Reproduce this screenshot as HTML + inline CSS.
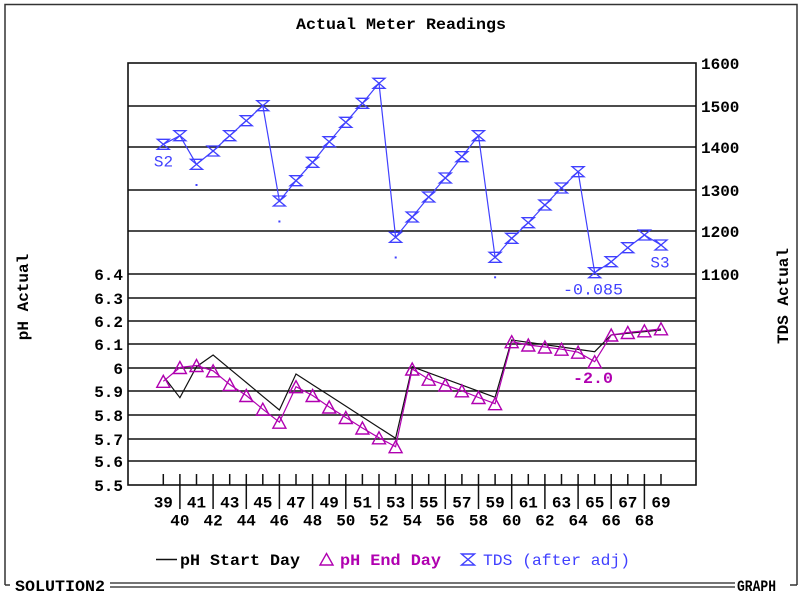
<!DOCTYPE html>
<html><head><meta charset="utf-8"><style>
html,body{margin:0;padding:0;background:#fff;}
svg{display:block;}
text{font-family:"Liberation Mono","DejaVu Sans Mono",monospace;}
.b{font-weight:bold;fill:#000;font-size:16px;}
</style></head><body>
<svg width="801" height="596" viewBox="0 0 801 596" xmlns="http://www.w3.org/2000/svg">
<rect x="0" y="0" width="801" height="596" fill="#fff"/>
<!-- outer frame -->
<path d="M5 585 V4.5 H797 V585" fill="none" stroke="#333" stroke-width="1.5"/>
<path d="M5 585 H10" stroke="#333" stroke-width="1.5"/>
<path d="M790 585 H797" stroke="#333" stroke-width="1.5"/>
<path d="M110 583 H735 M110 587 H735" stroke="#222" stroke-width="1.3"/>
<text class="b" x="15" y="591" textLength="90" lengthAdjust="spacingAndGlyphs">SOLUTION2</text>
<text class="b" x="737" y="591" textLength="39" lengthAdjust="spacingAndGlyphs">GRAPH</text>

<!-- title -->
<text class="b" x="296" y="29" textLength="210" lengthAdjust="spacingAndGlyphs">Actual Meter Readings</text>

<!-- grid -->
<g stroke="#111" stroke-width="1.6">
<line x1="128" y1="106" x2="696" y2="106"/>
<line x1="128" y1="147" x2="696" y2="147"/>
<line x1="128" y1="190" x2="696" y2="190"/>
<line x1="128" y1="231" x2="696" y2="231"/>
<line x1="128" y1="274" x2="696" y2="274"/>
<line x1="128" y1="298" x2="696" y2="298"/>
<line x1="128" y1="321" x2="696" y2="321"/>
<line x1="128" y1="344" x2="696" y2="344"/>
<line x1="128" y1="368" x2="696" y2="368"/>
<line x1="128" y1="391" x2="696" y2="391"/>
<line x1="128" y1="415" x2="696" y2="415"/>
<line x1="128" y1="439" x2="696" y2="439"/>
<line x1="128" y1="461" x2="696" y2="461"/>
</g>
<rect x="128" y="63" width="568" height="422" fill="none" stroke="#111" stroke-width="1.6"/>

<!-- right axis labels -->
<g class="b">
<text class="b" x="701" y="69">1600</text>
<text class="b" x="701" y="112">1500</text>
<text class="b" x="701" y="153">1400</text>
<text class="b" x="701" y="196">1300</text>
<text class="b" x="701" y="237">1200</text>
<text class="b" x="701" y="280">1100</text>
</g>
<!-- left axis labels -->
<g text-anchor="end">
<text class="b" x="123" y="280">6.4</text>
<text class="b" x="123" y="304">6.3</text>
<text class="b" x="123" y="327">6.2</text>
<text class="b" x="123" y="350">6.1</text>
<text class="b" x="123" y="374">6</text>
<text class="b" x="123" y="397">5.9</text>
<text class="b" x="123" y="421">5.8</text>
<text class="b" x="123" y="445">5.7</text>
<text class="b" x="123" y="467">5.6</text>
<text class="b" x="123" y="491">5.5</text>
</g>

<!-- axis titles -->
<text class="b" transform="translate(28,297) rotate(-90)" text-anchor="middle">pH Actual</text>
<text class="b" transform="translate(788,296) rotate(-90)" text-anchor="middle">TDS Actual</text>

<!-- x ticks -->
<g stroke="#111" stroke-width="1.5">
<line x1="163.3" y1="474" x2="163.3" y2="485"/>
<line x1="179.9" y1="474" x2="179.9" y2="509"/>
<line x1="196.5" y1="474" x2="196.5" y2="485"/>
<line x1="213.1" y1="474" x2="213.1" y2="509"/>
<line x1="229.7" y1="474" x2="229.7" y2="485"/>
<line x1="246.3" y1="474" x2="246.3" y2="509"/>
<line x1="262.8" y1="474" x2="262.8" y2="485"/>
<line x1="279.4" y1="474" x2="279.4" y2="509"/>
<line x1="296.0" y1="474" x2="296.0" y2="485"/>
<line x1="312.6" y1="474" x2="312.6" y2="509"/>
<line x1="329.2" y1="474" x2="329.2" y2="485"/>
<line x1="345.8" y1="474" x2="345.8" y2="509"/>
<line x1="362.4" y1="474" x2="362.4" y2="485"/>
<line x1="379.0" y1="474" x2="379.0" y2="509"/>
<line x1="395.6" y1="474" x2="395.6" y2="485"/>
<line x1="412.2" y1="474" x2="412.2" y2="509"/>
<line x1="428.7" y1="474" x2="428.7" y2="485"/>
<line x1="445.3" y1="474" x2="445.3" y2="509"/>
<line x1="461.9" y1="474" x2="461.9" y2="485"/>
<line x1="478.5" y1="474" x2="478.5" y2="509"/>
<line x1="495.1" y1="474" x2="495.1" y2="485"/>
<line x1="511.7" y1="474" x2="511.7" y2="509"/>
<line x1="528.3" y1="474" x2="528.3" y2="485"/>
<line x1="544.9" y1="474" x2="544.9" y2="509"/>
<line x1="561.5" y1="474" x2="561.5" y2="485"/>
<line x1="578.1" y1="474" x2="578.1" y2="509"/>
<line x1="594.7" y1="474" x2="594.7" y2="485"/>
<line x1="611.2" y1="474" x2="611.2" y2="509"/>
<line x1="627.8" y1="474" x2="627.8" y2="485"/>
<line x1="644.4" y1="474" x2="644.4" y2="509"/>
<line x1="661.0" y1="474" x2="661.0" y2="485"/>
</g>
<!-- x labels -->
<g text-anchor="middle">
<text class="b" x="163.3" y="507.5">39</text>
<text class="b" x="196.5" y="507.5">41</text>
<text class="b" x="229.7" y="507.5">43</text>
<text class="b" x="262.8" y="507.5">45</text>
<text class="b" x="296.0" y="507.5">47</text>
<text class="b" x="329.2" y="507.5">49</text>
<text class="b" x="362.4" y="507.5">51</text>
<text class="b" x="395.6" y="507.5">53</text>
<text class="b" x="428.7" y="507.5">55</text>
<text class="b" x="461.9" y="507.5">57</text>
<text class="b" x="495.1" y="507.5">59</text>
<text class="b" x="528.3" y="507.5">61</text>
<text class="b" x="561.5" y="507.5">63</text>
<text class="b" x="594.7" y="507.5">65</text>
<text class="b" x="627.8" y="507.5">67</text>
<text class="b" x="661.0" y="507.5">69</text>
<text class="b" x="179.9" y="525.5">40</text>
<text class="b" x="213.1" y="525.5">42</text>
<text class="b" x="246.3" y="525.5">44</text>
<text class="b" x="279.4" y="525.5">46</text>
<text class="b" x="312.6" y="525.5">48</text>
<text class="b" x="345.8" y="525.5">50</text>
<text class="b" x="379.0" y="525.5">52</text>
<text class="b" x="412.2" y="525.5">54</text>
<text class="b" x="445.3" y="525.5">56</text>
<text class="b" x="478.5" y="525.5">58</text>
<text class="b" x="511.7" y="525.5">60</text>
<text class="b" x="544.9" y="525.5">62</text>
<text class="b" x="578.1" y="525.5">64</text>
<text class="b" x="611.2" y="525.5">66</text>
<text class="b" x="644.4" y="525.5">68</text>
</g>

<!-- pH Start Day (black) -->
<polyline fill="none" stroke="#111" stroke-width="1.2" points="163.3,376 179.9,397.7 196.5,366.7 213.1,355 229.7,368.8 246.3,382.5 262.8,396.3 279.4,410 296.0,374 312.6,384.7 329.2,395.4 345.8,406.1 362.4,416.9 379.0,427.6 395.6,438.3 412.2,366.7 428.7,372.8 445.3,378.9 461.9,385.1 478.5,391.2 495.1,397.3 511.7,340 528.3,342.3 544.9,344.7 561.5,347 578.1,349.4 594.7,351.7 611.2,335 627.8,333.3 644.4,331.7 661.0,330"/>

<!-- pH End Day (magenta) -->
<g fill="none" stroke="#b000b0" stroke-width="1.2">
<polyline points="163.3,381.3 179.9,367.5 196.5,365.5 213.1,370.8 229.7,384.5 246.3,395.5 262.8,409.2 279.4,422.2 296.0,386.7 312.6,395.5 329.2,407 345.8,417.5 362.4,428 379.0,437.8 395.6,446.7 412.2,369 428.7,379.2 445.3,385 461.9,390.8 478.5,397.5 495.1,403.7 511.7,341.7 528.3,345 544.9,347 561.5,349.2 578.1,352.2 594.7,361.7 611.2,335 627.8,332.5 644.4,330.8 661.0,328.8"/>
<g stroke-width="1.4">
<path d="M163.3 375.3 L169.8 387.3 L156.8 387.3 Z"/>
<path d="M179.9 361.5 L186.4 373.5 L173.4 373.5 Z"/>
<path d="M196.5 359.5 L203 371.5 L190 371.5 Z"/>
<path d="M213.1 364.8 L219.6 376.8 L206.6 376.8 Z"/>
<path d="M229.7 378.5 L236.2 390.5 L223.2 390.5 Z"/>
<path d="M246.3 389.5 L252.8 401.5 L239.8 401.5 Z"/>
<path d="M262.8 403.2 L269.3 415.2 L256.3 415.2 Z"/>
<path d="M279.4 416.2 L285.9 428.2 L272.9 428.2 Z"/>
<path d="M296.0 380.7 L302.5 392.7 L289.5 392.7 Z"/>
<path d="M312.6 389.5 L319.1 401.5 L306.1 401.5 Z"/>
<path d="M329.2 401 L335.7 413 L322.7 413 Z"/>
<path d="M345.8 411.5 L352.3 423.5 L339.3 423.5 Z"/>
<path d="M362.4 422 L368.9 434 L355.9 434 Z"/>
<path d="M379.0 431.8 L385.5 443.8 L372.5 443.8 Z"/>
<path d="M395.6 440.7 L402.1 452.7 L389.1 452.7 Z"/>
<path d="M412.2 363 L418.7 375 L405.7 375 Z"/>
<path d="M428.7 373.2 L435.2 385.2 L422.2 385.2 Z"/>
<path d="M445.3 379 L451.8 391 L438.8 391 Z"/>
<path d="M461.9 384.8 L468.4 396.8 L455.4 396.8 Z"/>
<path d="M478.5 391.5 L485 403.5 L472 403.5 Z"/>
<path d="M495.1 397.7 L501.6 409.7 L488.6 409.7 Z"/>
<path d="M511.7 335.7 L518.2 347.7 L505.2 347.7 Z"/>
<path d="M528.3 339 L534.8 351 L521.8 351 Z"/>
<path d="M544.9 341 L551.4 353 L538.4 353 Z"/>
<path d="M561.5 343.2 L568 355.2 L555 355.2 Z"/>
<path d="M578.1 346.2 L584.6 358.2 L571.6 358.2 Z"/>
<path d="M594.7 355.7 L601.2 367.7 L588.2 367.7 Z"/>
<path d="M611.2 329 L617.7 341 L604.7 341 Z"/>
<path d="M627.8 326.5 L634.3 338.5 L621.3 338.5 Z"/>
<path d="M644.4 324.8 L650.9 336.8 L637.9 336.8 Z"/>
<path d="M661.0 322.8 L667.5 334.8 L654.5 334.8 Z"/>
</g>
</g>

<!-- TDS (blue) -->
<g fill="none" stroke="#4040ff" stroke-width="1.2">
<polyline points="163.3,144.3 179.9,135.7 196.5,164.3 213.1,151 229.7,135.7 246.3,120.7 262.8,105.7 279.4,201 296.0,180.7 312.6,162.3 329.2,141.7 345.8,122.3 362.4,103.3 379.0,83.3 395.6,237.3 412.2,217 428.7,197 445.3,178 461.9,156.7 478.5,135.7 495.1,257.3 511.7,238.3 528.3,222.7 544.9,205 561.5,188 578.1,171.7 594.7,272.7 611.2,261.7 627.8,247.7 644.4,235 661.0,245"/>
<g stroke-width="1.3">
<path d="M157.3 139.3 H169.3 L157.3 149.3 H169.3 Z"/>
<path d="M173.9 130.7 H185.9 L173.9 140.7 H185.9 Z"/>
<path d="M190.5 159.3 H202.5 L190.5 169.3 H202.5 Z"/>
<path d="M207.1 146 H219.1 L207.1 156 H219.1 Z"/>
<path d="M223.7 130.7 H235.7 L223.7 140.7 H235.7 Z"/>
<path d="M240.3 115.7 H252.3 L240.3 125.7 H252.3 Z"/>
<path d="M256.8 100.7 H268.8 L256.8 110.7 H268.8 Z"/>
<path d="M273.4 196 H285.4 L273.4 206 H285.4 Z"/>
<path d="M290.0 175.7 H302.0 L290.0 185.7 H302.0 Z"/>
<path d="M306.6 157.3 H318.6 L306.6 167.3 H318.6 Z"/>
<path d="M323.2 136.7 H335.2 L323.2 146.7 H335.2 Z"/>
<path d="M339.8 117.3 H351.8 L339.8 127.3 H351.8 Z"/>
<path d="M356.4 98.3 H368.4 L356.4 108.3 H368.4 Z"/>
<path d="M373.0 78.3 H385.0 L373.0 88.3 H385.0 Z"/>
<path d="M389.6 232.3 H401.6 L389.6 242.3 H401.6 Z"/>
<path d="M406.2 212 H418.2 L406.2 222 H418.2 Z"/>
<path d="M422.7 192 H434.7 L422.7 202 H434.7 Z"/>
<path d="M439.3 173 H451.3 L439.3 183 H451.3 Z"/>
<path d="M455.9 151.7 H467.9 L455.9 161.7 H467.9 Z"/>
<path d="M472.5 130.7 H484.5 L472.5 140.7 H484.5 Z"/>
<path d="M489.1 252.3 H501.1 L489.1 262.3 H501.1 Z"/>
<path d="M505.7 233.3 H517.7 L505.7 243.3 H517.7 Z"/>
<path d="M522.3 217.7 H534.3 L522.3 227.7 H534.3 Z"/>
<path d="M538.9 200 H550.9 L538.9 210 H550.9 Z"/>
<path d="M555.5 183 H567.5 L555.5 193 H567.5 Z"/>
<path d="M572.1 166.7 H584.1 L572.1 176.7 H584.1 Z"/>
<path d="M588.7 267.7 H600.7 L588.7 277.7 H600.7 Z"/>
<path d="M605.2 256.7 H617.2 L605.2 266.7 H617.2 Z"/>
<path d="M621.8 242.7 H633.8 L621.8 252.7 H633.8 Z"/>
<path d="M638.4 230 H650.4 L638.4 240 H650.4 Z"/>
<path d="M655.0 240 H667.0 L655.0 250 H667.0 Z"/>
</g>
</g>
<g fill="#4040ff">
<rect x="195.5" y="184" width="2" height="2"/>
<rect x="278.4" y="220.5" width="2" height="2"/>
<rect x="394.7" y="256.5" width="2" height="2"/>
<rect x="494.1" y="276.3" width="2" height="2"/>
</g>

<!-- data labels -->
<text x="163.5" y="166.5" text-anchor="middle" font-size="16" fill="#4040ff">S2</text>
<text x="660" y="267.5" text-anchor="middle" font-size="16" fill="#4040ff">S3</text>
<text x="593" y="294.5" text-anchor="middle" font-size="16" fill="#4040ff" textLength="60" lengthAdjust="spacingAndGlyphs">-0.085</text>
<text x="593" y="383" text-anchor="middle" font-size="16" font-weight="bold" fill="#b000b0" textLength="40" lengthAdjust="spacingAndGlyphs">-2.0</text>

<!-- legend -->
<line x1="156" y1="559.5" x2="177" y2="559.5" stroke="#111" stroke-width="1.5"/>
<text class="b" x="180" y="565" textLength="120" lengthAdjust="spacingAndGlyphs">pH Start Day</text>
<path d="M326.5 553.5 L333 565 L320 565 Z" fill="none" stroke="#b000b0" stroke-width="1.4"/>
<text x="340" y="565" font-size="16" font-weight="bold" fill="#b000b0" textLength="101" lengthAdjust="spacingAndGlyphs">pH End Day</text>
<path d="M461.5 554 H474.5 L461.5 565 H474.5 Z" fill="none" stroke="#4040ff" stroke-width="1.4"/>
<text x="483" y="565" font-size="16" fill="#4040ff" textLength="147" lengthAdjust="spacingAndGlyphs">TDS (after adj)</text>
</svg>
</body></html>
